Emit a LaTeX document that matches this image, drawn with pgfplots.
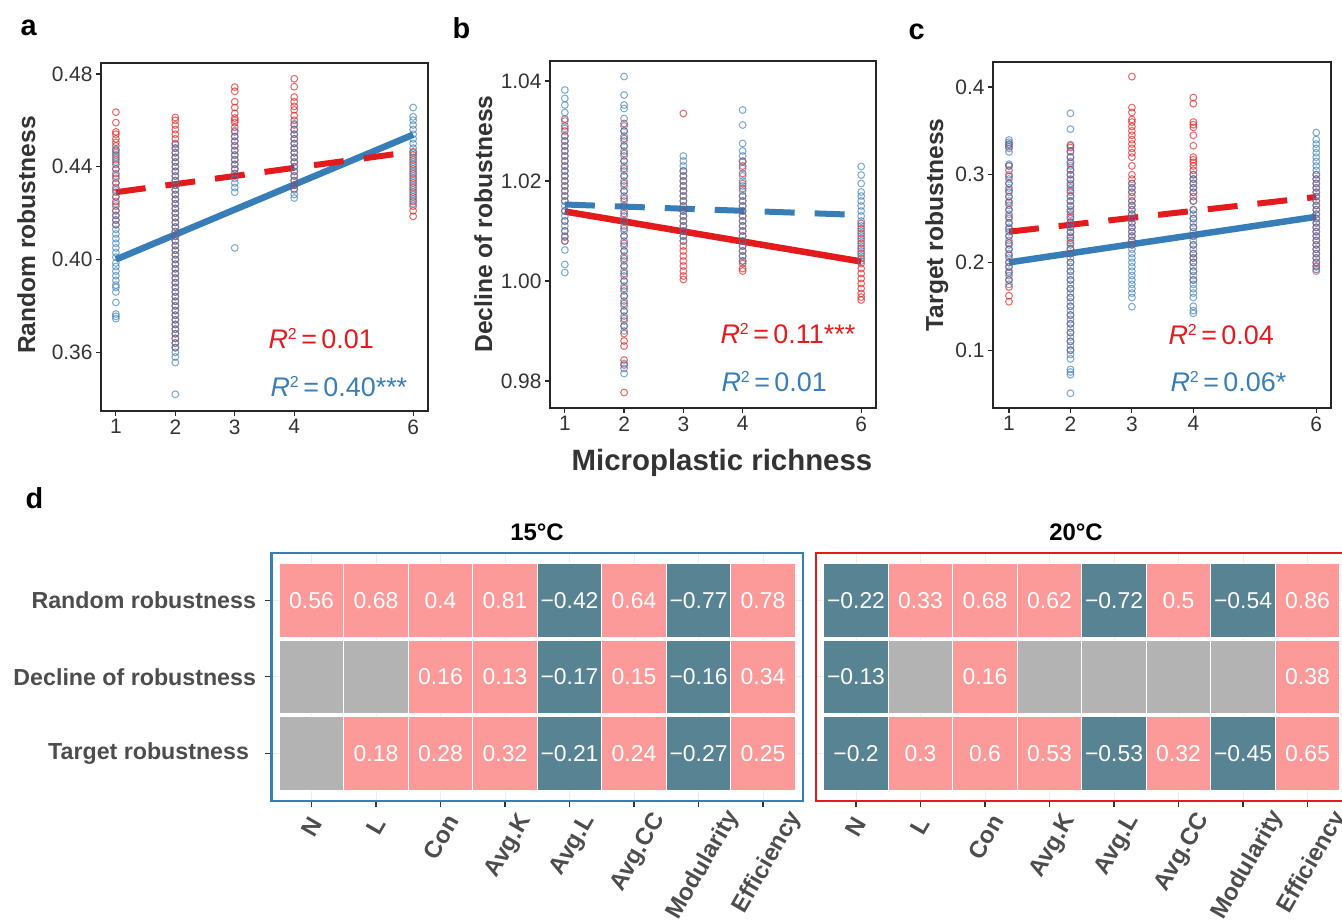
\documentclass[border=0pt]{standalone}
\usepackage{pgfplots}
\pgfplotsset{compat=1.18}
\usepackage{fontspec}
\setmainfont{Liberation Sans}
\definecolor{cred}{HTML}{E41A1C}
\definecolor{cblue}{HTML}{377EB8}
\definecolor{cpos}{HTML}{FB9A99}
\definecolor{cneg}{HTML}{578393}
\definecolor{cgray}{HTML}{B3B3B3}
\definecolor{ctxt}{HTML}{333333}
\definecolor{clab}{HTML}{4D4D4D}
\newcommand\fs[1]{\fontsize{#1}{#1}\selectfont}
\newcommand\Rsq{\textit{R}\raisebox{9bp}{\fs{16}2}\,=\,}
\pgfdeclareplotmark{cell}{\pgfpathrectangle{\pgfpoint{-32.25bp}{-36.75bp}}{\pgfpoint{64.5bp}{73.5bp}}\pgfusepathqfillstroke}
\newcommand\cl[3]{\rule{0pt}{#1bp}\makebox[\dimexpr\width+#2bp\relax][l]{#3}}
\pgfplotsset{
  sc/.style={scale only axis, anchor=north west,
    axis line style={black!85, line width=1.4bp},
    tick align=outside, major tick length=5bp, xtick pos=left, ytick pos=left,
    tick style={black!85, line width=1.2bp},
    ticklabel style={font=\fs{21}, text=ctxt},
    /pgf/number format/assume math mode=true,
    xtick={1,2,3,4,6}, xmin=0.75, xmax=6.25, scaled y ticks=false},
  redpt/.style={only marks, mark=o, mark size=3.4bp, color=cred, mark options={draw opacity=0.65, line width=1.05bp}},
  bluept/.style={only marks, mark=o, mark size=3.4bp, color=cblue, mark options={draw opacity=0.65, line width=1.05bp}},
  hm/.style={scale only axis, anchor=north west, width=531.5bp, height=248bp,
    xmin=0.38, xmax=8.62, ymin=0.38, ymax=3.62,
    xtick={1,2,3,4,5,6,7,8},
    xticklabels={\cl{17.8}{8.5}{N},\cl{17.5}{9.1}{L},\cl{24}{2.7}{Con},\cl{28.8}{-1.9}{Avg.K},\cl{28.2}{-1.3}{Avg.L},\cl{32.4}{-5.3}{Avg.CC},\cl{39.7}{-12.3}{Modularity},\cl{38}{-10.7}{Efficiency}},
    ytick={1,2,3}, tick align=outside, major tick length=6bp, xtick pos=left, ytick pos=left,
    tick style={ctxt, line width=1.2bp},
    xticklabel style={rotate=60, anchor=north east, inner sep=0pt, font=\bfseries\fs{24}, text=clab},
    grid=major, major grid style={draw=black!7, line width=0.6bp}},
  cellp/.style={only marks, mark=cell, mark options={fill=#1, draw=white, line width=0.8bp}},
  cellt/.style={draw=none, mark=none, point meta=explicit symbolic, nodes near coords,
    nodes near coords align={center}, every node near coord/.append style={text=white, font=\fs{23}, anchor=center}}
}
\begin{document}
\begin{tikzpicture}
\useasboundingbox (0bp,0bp) rectangle (1342bp,-921bp);
% ---------------- panel a
\begin{axis}[sc, at={(101bp,-63bp)}, width=327bp, height=348bp,
  ymin=0.3347, ymax=0.4847, ytick={0.36,0.40,0.44,0.48},
  yticklabel style={/pgf/number format/.cd, fixed, fixed zerofill, precision=2}]
\addplot[redpt] coordinates {
(1,0.4635)(1,0.459)(1,0.455)(1,0.454)(1,0.452)(1,0.4505)(1,0.449)(1,0.447)(1,0.445)(1,0.443)(1,0.441)(1,0.439)(1,0.437)(1,0.435)(1,0.433)(1,0.431)(1,0.429)(1,0.427)(1,0.425)(1,0.423)(1,0.421)(1,0.419)(1,0.417)(1,0.415)
(2,0.4612)(2,0.460)(2,0.458)(2,0.456)(2,0.454)(2,0.452)(2,0.450)(2,0.448)(2,0.446)(2,0.444)(2,0.442)(2,0.440)(2,0.438)(2,0.436)(2,0.434)(2,0.432)(2,0.430)(2,0.428)(2,0.426)(2,0.424)(2,0.422)(2,0.420)(2,0.418)(2,0.416)(2,0.414)(2,0.412)(2,0.410)(2,0.408)(2,0.406)(2,0.404)(2,0.402)(2,0.400)(2,0.398)(2,0.396)(2,0.394)(2,0.392)(2,0.390)(2,0.388)(2,0.386)(2,0.384)(2,0.382)(2,0.380)(2,0.378)(2,0.376)(2,0.374)(2,0.372)(2,0.370)(2,0.368)(2,0.366)(2,0.364)(2,0.362)
(3,0.4743)(3,0.4725)(3,0.468)(3,0.4655)(3,0.463)(3,0.461)(3,0.460)(3,0.459)(3,0.457)(3,0.455)(3,0.453)(3,0.451)(3,0.449)(3,0.447)(3,0.445)(3,0.443)(3,0.441)(3,0.439)(3,0.437)
(4,0.4779)(4,0.4745)(4,0.470)(4,0.468)(4,0.466)(4,0.4645)(4,0.462)(4,0.460)(4,0.458)(4,0.456)(4,0.454)(4,0.452)(4,0.450)(4,0.448)(4,0.446)(4,0.444)(4,0.442)(4,0.440)(4,0.438)(4,0.436)(4,0.434)(4,0.432)(4,0.4305)
(6,0.4465)(6,0.445)(6,0.443)(6,0.441)(6,0.439)(6,0.437)(6,0.435)(6,0.433)(6,0.431)(6,0.429)(6,0.427)(6,0.425)(6,0.423)(6,0.421)(6,0.4186)};
\addplot[bluept] coordinates {
(1,0.4475)(1,0.446)(1,0.444)(1,0.442)(1,0.439)(1,0.436)(1,0.433)(1,0.430)(1,0.427)(1,0.424)(1,0.421)(1,0.419)(1,0.417)(1,0.415)(1,0.413)(1,0.411)(1,0.409)(1,0.407)(1,0.405)(1,0.403)(1,0.401)(1,0.3985)(1,0.397)(1,0.395)(1,0.393)(1,0.391)(1,0.389)(1,0.388)(1,0.386)(1,0.3815)(1,0.3765)(1,0.3755)(1,0.3745)
(2,0.4495)(2,0.448)(2,0.446)(2,0.444)(2,0.442)(2,0.440)(2,0.438)(2,0.436)(2,0.434)(2,0.432)(2,0.430)(2,0.428)(2,0.426)(2,0.424)(2,0.422)(2,0.420)(2,0.418)(2,0.416)(2,0.414)(2,0.412)(2,0.410)(2,0.408)(2,0.406)(2,0.404)(2,0.402)(2,0.400)(2,0.398)(2,0.396)(2,0.394)(2,0.392)(2,0.390)(2,0.388)(2,0.386)(2,0.384)(2,0.382)(2,0.380)(2,0.378)(2,0.376)(2,0.374)(2,0.372)(2,0.370)(2,0.368)(2,0.366)(2,0.364)(2,0.362)(2,0.360)(2,0.358)(2,0.3556)(2,0.3419)
(3,0.4555)(3,0.453)(3,0.451)(3,0.449)(3,0.447)(3,0.445)(3,0.443)(3,0.441)(3,0.439)(3,0.437)(3,0.435)(3,0.433)(3,0.431)(3,0.429)(3,0.405)
(4,0.4585)(4,0.456)(4,0.454)(4,0.452)(4,0.450)(4,0.448)(4,0.446)(4,0.444)(4,0.442)(4,0.440)(4,0.438)(4,0.436)(4,0.434)(4,0.432)(4,0.430)(4,0.428)(4,0.4265)
(6,0.4655)(6,0.4615)(6,0.460)(6,0.458)(6,0.456)(6,0.454)(6,0.452)(6,0.450)(6,0.448)(6,0.446)(6,0.444)(6,0.442)(6,0.440)(6,0.438)(6,0.436)(6,0.434)(6,0.432)(6,0.430)(6,0.428)(6,0.426)(6,0.424)};
\addplot[cblue, line width=6.5bp] coordinates {(1,0.400)(6,0.4538)};
\addplot[cred, line width=6bp, dash pattern=on 30bp off 20bp] coordinates {(1,0.429)(6,0.4465)};
\end{axis}
% ---------------- panel b
\begin{axis}[sc, at={(550bp,-61bp)}, width=326bp, height=347bp,
  ymin=0.9746, ymax=1.044, ytick={0.98,1.00,1.02,1.04},
  yticklabel style={/pgf/number format/.cd, fixed, fixed zerofill, precision=2}]
\addplot[redpt] coordinates {
(1,1.0324)(1,1.031)(1,1.030)(1,1.029)(1,1.028)(1,1.027)(1,1.026)(1,1.025)(1,1.024)(1,1.023)(1,1.022)(1,1.021)(1,1.020)(1,1.019)(1,1.018)(1,1.017)(1,1.016)(1,1.014)(1,1.012)(1,1.010)(1,1.0088)(1,1.008)
(2,1.0315)(2,1.030)(2,1.0285)(2,1.027)(2,1.0255)(2,1.024)(2,1.0225)(2,1.021)(2,1.0195)(2,1.018)(2,1.0165)(2,1.015)(2,1.0135)(2,1.012)(2,1.0105)(2,1.009)(2,1.0075)(2,1.006)(2,1.0045)(2,1.003)(2,1.0015)(2,1.000)(2,0.9985)(2,0.997)(2,0.9955)(2,0.994)(2,0.9925)(2,0.991)(2,0.9895)(2,0.988)(2,0.987)(2,0.9842)(2,0.9832)(2,0.9777)
(3,1.0335)(3,1.022)(3,1.021)(3,1.020)(3,1.019)(3,1.018)(3,1.017)(3,1.016)(3,1.015)(3,1.014)(3,1.013)(3,1.012)(3,1.011)(3,1.010)(3,1.009)(3,1.008)(3,1.007)(3,1.006)(3,1.005)(3,1.004)(3,1.003)(3,1.002)(3,1.001)(3,1.0003)
(4,1.024)(4,1.023)(4,1.0215)(4,1.0195)(4,1.0185)(4,1.017)(4,1.016)(4,1.015)(4,1.014)(4,1.013)(4,1.012)(4,1.011)(4,1.010)(4,1.009)(4,1.008)(4,1.007)(4,1.006)(4,1.005)(4,1.004)(4,1.0035)(4,1.0025)(4,1.002)
(6,1.0115)(6,1.0105)(6,1.0095)(6,1.0085)(6,1.0075)(6,1.0065)(6,1.0055)(6,1.0045)(6,1.0035)(6,1.0025)(6,1.0015)(6,1.0005)(6,0.9995)(6,0.9985)(6,0.9975)(6,0.9968)(6,0.9962)};
\addplot[bluept] coordinates {
(1,1.0382)(1,1.0365)(1,1.0352)(1,1.0337)(1,1.032)(1,1.0305)(1,1.029)(1,1.028)(1,1.027)(1,1.026)(1,1.025)(1,1.024)(1,1.023)(1,1.022)(1,1.021)(1,1.020)(1,1.019)(1,1.018)(1,1.017)(1,1.016)(1,1.015)(1,1.014)(1,1.013)(1,1.012)(1,1.011)(1,1.010)(1,1.009)(1,1.008)(1,1.0062)(1,1.0033)(1,1.0017)
(2,1.0409)(2,1.0372)(2,1.0352)(2,1.0345)(2,1.0325)(2,1.031)(2,1.030)(2,1.029)(2,1.028)(2,1.027)(2,1.026)(2,1.025)(2,1.024)(2,1.023)(2,1.022)(2,1.021)(2,1.020)(2,1.019)(2,1.018)(2,1.017)(2,1.016)(2,1.015)(2,1.014)(2,1.013)(2,1.012)(2,1.011)(2,1.010)(2,1.009)(2,1.008)(2,1.007)(2,1.006)(2,1.005)(2,1.004)(2,1.003)(2,1.002)(2,1.001)(2,1.000)(2,0.999)(2,0.998)(2,0.997)(2,0.996)(2,0.995)(2,0.994)(2,0.993)(2,0.992)(2,0.991)(2,0.990)(2,0.9835)(2,0.9825)(2,0.9815)
(3,1.025)(3,1.024)(3,1.023)(3,1.022)(3,1.021)(3,1.020)(3,1.019)(3,1.018)(3,1.017)(3,1.016)(3,1.015)(3,1.014)(3,1.013)(3,1.012)(3,1.011)(3,1.010)(3,1.009)(3,1.008)
(4,1.0342)(4,1.0312)(4,1.0275)(4,1.026)(4,1.025)(4,1.0238)(4,1.0225)(4,1.021)(4,1.020)(4,1.019)(4,1.018)(4,1.017)(4,1.016)(4,1.015)(4,1.014)(4,1.013)(4,1.012)(4,1.011)(4,1.010)(4,1.009)(4,1.008)(4,1.007)(4,1.006)(4,1.005)(4,1.004)
(6,1.0229)(6,1.0212)(6,1.0195)(6,1.0178)(6,1.017)(6,1.016)(6,1.015)(6,1.014)(6,1.013)(6,1.012)(6,1.011)(6,1.010)(6,1.009)(6,1.008)(6,1.007)(6,1.006)(6,1.005)(6,1.004)};
\addplot[cred, line width=6.5bp] coordinates {(1,1.0139)(6,1.0039)};
\addplot[cblue, line width=6bp, dash pattern=on 30bp off 20bp] coordinates {(1,1.0153)(6,1.0132)};
\end{axis}
% ---------------- panel c
\begin{axis}[sc, at={(993bp,-62bp)}, width=338bp, height=346bp, xmin=0.74, xmax=6.24,
  ymin=0.034, ymax=0.4285, ytick={0.1,0.2,0.3,0.4},
  yticklabel style={/pgf/number format/.cd, fixed, fixed zerofill, precision=1}]
\addplot[redpt] coordinates {
(1,0.335)(1,0.332)(1,0.31)(1,0.305)(1,0.298)(1,0.29)(1,0.282)(1,0.275)(1,0.268)(1,0.26)(1,0.252)(1,0.245)(1,0.238)(1,0.23)(1,0.222)(1,0.215)(1,0.208)(1,0.20)(1,0.195)(1,0.188)(1,0.18)(1,0.172)(1,0.162)(1,0.1552)
(2,0.334)(2,0.331)(2,0.327)(2,0.32)(2,0.313)(2,0.306)(2,0.30)(2,0.294)(2,0.288)(2,0.282)(2,0.276)(2,0.27)(2,0.264)(2,0.258)(2,0.252)(2,0.246)(2,0.24)(2,0.234)(2,0.228)(2,0.222)(2,0.216)(2,0.21)(2,0.2)(2,0.19)(2,0.18)(2,0.17)(2,0.16)(2,0.15)(2,0.14)(2,0.13)(2,0.12)(2,0.11)(2,0.10)
(3,0.4118)(3,0.3765)(3,0.371)(3,0.363)(3,0.360)(3,0.355)(3,0.350)(3,0.345)(3,0.340)(3,0.335)(3,0.330)(3,0.325)(3,0.32)(3,0.31)(3,0.30)(3,0.295)(3,0.29)(3,0.285)(3,0.28)(3,0.275)(3,0.27)(3,0.265)(3,0.26)(3,0.255)(3,0.25)(3,0.245)(3,0.24)(3,0.235)(3,0.23)(3,0.225)(3,0.22)
(4,0.388)(4,0.381)(4,0.36)(4,0.357)(4,0.354)(4,0.345)(4,0.333)(4,0.32)(4,0.317)(4,0.314)(4,0.31)(4,0.305)(4,0.30)(4,0.295)(4,0.29)(4,0.285)(4,0.28)(4,0.275)(4,0.27)(4,0.26)(4,0.25)(4,0.24)(4,0.23)(4,0.22)(4,0.21)(4,0.205)(4,0.20)(4,0.19)(4,0.18)
(6,0.30)(6,0.295)(6,0.29)(6,0.285)(6,0.28)(6,0.275)(6,0.27)(6,0.265)(6,0.26)(6,0.255)(6,0.25)(6,0.245)(6,0.24)(6,0.235)(6,0.23)(6,0.225)(6,0.22)(6,0.215)(6,0.21)(6,0.205)(6,0.20)(6,0.196)(6,0.192)};
\addplot[bluept] coordinates {
(1,0.3396)(1,0.337)(1,0.334)(1,0.330)(1,0.326)(1,0.312)(1,0.310)(1,0.300)(1,0.295)(1,0.290)(1,0.285)(1,0.28)(1,0.275)(1,0.27)(1,0.265)(1,0.26)(1,0.255)(1,0.25)(1,0.245)(1,0.24)(1,0.235)(1,0.23)(1,0.225)(1,0.22)(1,0.215)(1,0.21)(1,0.205)(1,0.20)(1,0.195)(1,0.19)(1,0.185)(1,0.18)(1,0.175)
(2,0.37)(2,0.352)(2,0.333)(2,0.326)(2,0.32)(2,0.315)(2,0.31)(2,0.305)(2,0.30)(2,0.295)(2,0.29)(2,0.285)(2,0.28)(2,0.275)(2,0.27)(2,0.265)(2,0.26)(2,0.255)(2,0.25)(2,0.245)(2,0.24)(2,0.235)(2,0.23)(2,0.225)(2,0.22)(2,0.215)(2,0.21)(2,0.205)(2,0.20)(2,0.195)(2,0.19)(2,0.185)(2,0.18)(2,0.175)(2,0.17)(2,0.165)(2,0.16)(2,0.155)(2,0.15)(2,0.145)(2,0.14)(2,0.135)(2,0.13)(2,0.125)(2,0.12)(2,0.115)(2,0.11)(2,0.105)(2,0.10)(2,0.095)(2,0.09)(2,0.078)(2,0.075)(2,0.072)(2,0.0508)
(3,0.29)(3,0.285)(3,0.28)(3,0.27)(3,0.265)(3,0.26)(3,0.255)(3,0.25)(3,0.245)(3,0.24)(3,0.235)(3,0.23)(3,0.225)(3,0.22)(3,0.215)(3,0.21)(3,0.205)(3,0.20)(3,0.195)(3,0.19)(3,0.185)(3,0.18)(3,0.175)(3,0.17)(3,0.165)(3,0.16)(3,0.1495)
(4,0.30)(4,0.295)(4,0.29)(4,0.285)(4,0.28)(4,0.27)(4,0.26)(4,0.255)(4,0.25)(4,0.245)(4,0.24)(4,0.235)(4,0.23)(4,0.225)(4,0.22)(4,0.215)(4,0.21)(4,0.205)(4,0.20)(4,0.195)(4,0.19)(4,0.185)(4,0.18)(4,0.175)(4,0.17)(4,0.165)(4,0.16)(4,0.15)(4,0.145)(4,0.142)
(6,0.348)(6,0.34)(6,0.335)(6,0.33)(6,0.325)(6,0.32)(6,0.315)(6,0.31)(6,0.305)(6,0.30)(6,0.295)(6,0.29)(6,0.285)(6,0.28)(6,0.275)(6,0.27)(6,0.265)(6,0.26)(6,0.255)(6,0.25)(6,0.245)(6,0.24)(6,0.235)(6,0.23)(6,0.225)(6,0.22)(6,0.215)(6,0.21)(6,0.205)(6,0.20)(6,0.195)(6,0.19)};
\addplot[cblue, line width=6.5bp] coordinates {(1,0.200)(6,0.252)};
\addplot[cred, line width=6bp, dash pattern=on 30bp off 20bp] coordinates {(1,0.235)(6,0.2746)};
\end{axis}
% ---------------- panel d, 15 C
\begin{axis}[hm, at={(271.5bp,-552.7bp)}, axis line style={cblue, line width=2.4bp},
  yticklabels={\makebox[\dimexpr\width+7bp\relax][l]{Target robustness}, Decline of robustness, Random robustness},
  yticklabel style={font=\bfseries\fs{23.3}, text=clab, xshift=-6bp}]
\addplot[cellp=cpos] coordinates {(1,3)(2,3)(3,3)(4,3)(6,3)(8,3)(3,2)(4,2)(6,2)(8,2)(2,1)(3,1)(4,1)(6,1)(8,1)};
\addplot[cellp=cneg] coordinates {(5,3)(7,3)(5,2)(7,2)(5,1)(7,1)};
\addplot[cellp=cgray] coordinates {(1,2)(2,2)(1,1)};
\addplot[cellt] table[meta=t, row sep=\\] {
x y t\\
1 3 0.56\\ 2 3 0.68\\ 3 3 0.4\\ 4 3 0.81\\ 5 3 −0.42\\ 6 3 0.64\\ 7 3 −0.77\\ 8 3 0.78\\
3 2 0.16\\ 4 2 0.13\\ 5 2 −0.17\\ 6 2 0.15\\ 7 2 −0.16\\ 8 2 0.34\\
2 1 0.18\\ 3 1 0.28\\ 4 1 0.32\\ 5 1 −0.21\\ 6 1 0.24\\ 7 1 −0.27\\ 8 1 0.25\\
};
\end{axis}
% ---------------- panel d, 20 C
\begin{axis}[hm, at={(816bp,-552.7bp)}, axis line style={cred, line width=2.4bp},
  yticklabels={}, y tick style={draw=none}]
\addplot[cellp=cpos] coordinates {(2,3)(3,3)(4,3)(6,3)(8,3)(3,2)(8,2)(2,1)(3,1)(4,1)(6,1)(8,1)};
\addplot[cellp=cneg] coordinates {(1,3)(5,3)(7,3)(1,2)(1,1)(5,1)(7,1)};
\addplot[cellp=cgray] coordinates {(2,2)(4,2)(5,2)(6,2)(7,2)};
\addplot[cellt] table[meta=t, row sep=\\] {
x y t\\
1 3 −0.22\\ 2 3 0.33\\ 3 3 0.68\\ 4 3 0.62\\ 5 3 −0.72\\ 6 3 0.5\\ 7 3 −0.54\\ 8 3 0.86\\
1 2 −0.13\\ 3 2 0.16\\ 8 2 0.38\\
1 1 −0.2\\ 2 1 0.3\\ 3 1 0.6\\ 4 1 0.53\\ 5 1 −0.53\\ 6 1 0.32\\ 7 1 −0.45\\ 8 1 0.65\\
};
\end{axis}
% ---------------- text
\node[anchor=base west, font=\bfseries\fs{29}] at (17bp,-35bp) {a};
\node[anchor=base west, font=\bfseries\fs{29}] at (449bp,-38bp) {b};
\node[anchor=base west, font=\bfseries\fs{29}] at (905bp,-39bp) {c};
\node[anchor=base west, font=\bfseries\fs{29}] at (22bp,-508bp) {d};
\node[rotate=90, anchor=base, font=\bfseries\fs{24.7}, text=ctxt] at (35bp,-235bp) {Random robustness};
\node[rotate=90, anchor=base, font=\bfseries\fs{24.7}, text=ctxt] at (492bp,-224bp) {Decline of robustness};
\node[rotate=90, anchor=base, font=\bfseries\fs{24.7}, text=ctxt] at (943bp,-225bp) {Target robustness};
\node[anchor=base, font=\bfseries\fs{29.5}, text=ctxt] at (722bp,-470bp) {Microplastic richness};
\node[anchor=base west, text=cred, font=\fs{27}] at (265bp,-348bp) {\Rsq 0.01};
\node[anchor=base west, text=cblue, font=\fs{27}] at (267bp,-396bp) {\Rsq 0.40***};
\node[anchor=base west, text=cred, font=\fs{27}] at (717bp,-343bp) {\Rsq 0.11***};
\node[anchor=base west, text=cblue, font=\fs{27}] at (718bp,-391bp) {\Rsq 0.01};
\node[anchor=base west, text=cred, font=\fs{27}] at (1165bp,-344bp) {\Rsq 0.04};
\node[anchor=base west, text=cblue, font=\fs{27}] at (1167bp,-391bp) {\Rsq 0.06*};
\node[anchor=base, font=\bfseries\fs{24}] at (537bp,-540.7bp) {15°C};
\node[anchor=base, font=\bfseries\fs{24}] at (1076bp,-540bp) {20°C};
\end{tikzpicture}
\end{document}
